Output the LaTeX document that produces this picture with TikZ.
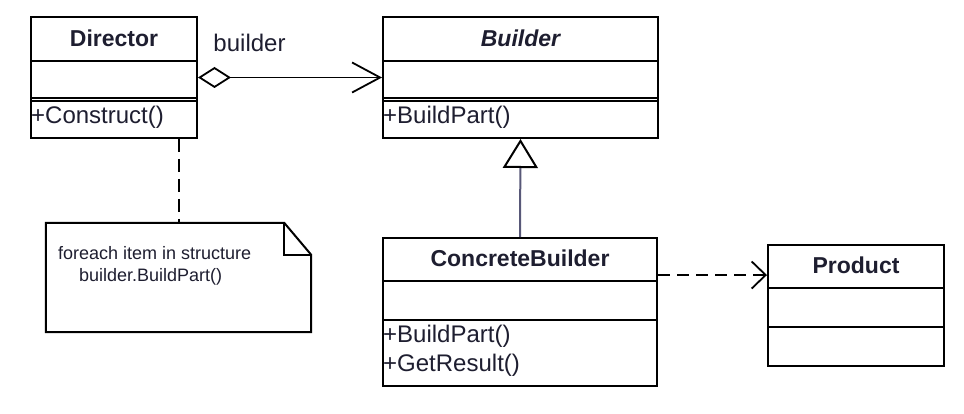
\documentclass[tikz,border=0pt]{standalone}
\usepackage{fontspec}
\setmainfont{Liberation Sans}
\usepackage{xcolor}
\usetikzlibrary{arrows.meta}

\definecolor{ink}{RGB}{30,30,48}
\definecolor{genline}{RGB}{88,88,120}

\begin{document}
\begin{tikzpicture}[
  x=1pt, y=-1pt,
  cls/.style={draw=black, line width=2pt, inner sep=0pt},
  cname/.style={text=ink, font=\fontsize{23}{26}\selectfont\bfseries},
  member/.style={text=ink, font=\fontsize{24}{27}\selectfont, anchor=west, inner sep=1pt},
  sep/.style={line width=1.8pt},
  lbl/.style={text=ink, font=\fontsize{24}{27}\selectfont},
  notetext/.style={text=ink, font=\fontsize{18}{22}\selectfont, align=left, anchor=west, inner sep=0pt},
  assoc/.style={line width=1.8pt, {Diamond[open, length=33pt, width=21pt]}-{Straight Barb[length=28pt, width=30pt]}},
  inherit/.style={line width=2pt, genline, -{Triangle[open, length=29pt, width=35pt, color=black]}},
  depend/.style={line width=1.8pt, dash pattern=on 12pt off 7pt, -{Straight Barb[length=14pt, width=27pt]}},
  anchorline/.style={line width=2pt, dash pattern=on 13pt off 7pt}
]
  \fill[white] (0,0) rectangle (964,414);
  \useasboundingbox (0,0) rectangle (964,414);

  % classes
  \node[cls, minimum width=166pt, minimum height=121pt] (director) at (114,77.5) {};
  \node[cls, minimum width=275pt, minimum height=121pt] (builder)  at (520.5,77.5) {};
  \node[cls, minimum width=274pt, minimum height=148pt] (concrete) at (520,312) {};
  \node[cls, minimum width=176pt, minimum height=121pt] (product)  at (856,305.5) {};
  \node[minimum width=265pt, minimum height=109pt, inner sep=0pt] (note) at (178.5,277.5) {};

  % compartments
  \foreach \c in {director, builder} {
    \draw[sep] ([yshift=-45pt]\c.north west) -- ([yshift=-45pt]\c.north east);
    \draw[sep] ([yshift=-82pt]\c.north west) -- ([yshift=-82pt]\c.north east);
    \draw[sep] ([yshift=-85pt]\c.north west) -- ([yshift=-85pt]\c.north east);
  }
  \foreach \c in {concrete, product} {
    \draw[sep] ([yshift=-44pt]\c.north west) -- ([yshift=-44pt]\c.north east);
    \draw[sep] ([yshift=-83pt]\c.north west) -- ([yshift=-83pt]\c.north east);
  }

  % names and members
  \node[cname] (directorname) at ([yshift=-22pt]director.north) {Director};
  \node[cname] (buildername)  at ([yshift=-22pt]builder.north) {\itshape Builder};
  \node[cname] (concretename) at ([yshift=-21pt]concrete.north) {ConcreteBuilder};
  \node[cname] (productname)  at ([yshift=-21pt]product.north) {Product};
  \node[member] (construct) at ([yshift=-101pt]director.north west) {+Construct()};
  \node[member] (buildpart) at ([yshift=-101pt]builder.north west) {+BuildPart()};
  \node[member] (cbuildpart) at ([yshift=-99pt]concrete.north west) {+BuildPart()};
  \node[member] (getresult)  at ([yshift=-128pt]concrete.north west) {+GetResult()};

  % note
  \draw[line width=2pt] (note.north west) -- ([xshift=-27pt]note.north east)
    -- ([yshift=-32pt]note.north east) -- (note.south east) -- (note.south west) -- cycle;
  \draw[line width=1.8pt] ([xshift=-27pt]note.north east) |- ([yshift=-32pt]note.north east);
  \node[notetext] (notebody) at ([xshift=12pt, yshift=-43pt]note.north west)
    {foreach item in structure\\\hspace*{21pt}builder.BuildPart()};

  % connectors
  \draw[assoc] (director.east) -- node[lbl, above=22pt, pos=0.28] {builder} (director.east -| builder.west);
  \draw[inherit] (concrete.north) -- (builder.south);
  \draw[depend] (concrete.15) -- (concrete.15 -| product.west);
  \draw[anchorline] (director.south -| note.north) -- (note.north);
\end{tikzpicture}
\end{document}
